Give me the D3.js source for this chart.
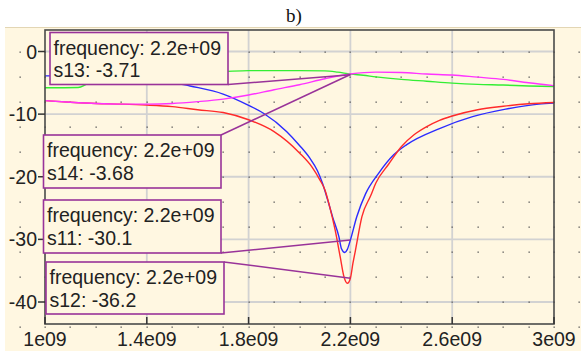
<!DOCTYPE html>
<html>
<head>
<meta charset="utf-8">
<script src="https://cdn.jsdelivr.net/npm/d3@7"></script>
<style>
  body { margin: 0; background: #fff; }
  svg { display: block; }
  .tick-label { font-family: "Liberation Sans", Arial, sans-serif; font-size: 19.5px; fill: #222; }
  .tip-text { font-family: "Liberation Sans", Arial, sans-serif; font-size: 19.5px; fill: #222; }
</style>
</head>
<body>
<div id="chart"></div>
<script>
// frequencies in GHz, values in dB
const freqS11 = [1.0, 1.1, 1.2, 1.3, 1.4, 1.5, 1.57, 1.7, 1.8, 1.86, 1.95, 2.0, 2.04, 2.07, 2.09, 2.11, 2.13, 2.155, 2.165, 2.178, 2.188, 2.2, 2.225, 2.26, 2.31, 2.37, 2.42, 2.55, 2.68, 2.81, 2.94, 3.0];
const s11 = [-3.9, -3.9, -4.0, -4.2, -4.5, -4.9, -5.5, -6.8, -8.6, -9.9, -12.8, -15.0, -17.0, -19.0, -21.0, -23.6, -26.4, -29.6, -31.5, -32.1, -31.6, -30.1, -26.4, -22.7, -19.5, -16.5, -14.9, -12.3, -10.4, -9.2, -8.4, -8.25];

const freqS12 = [1.0, 1.1, 1.2, 1.3, 1.4, 1.5, 1.6, 1.7, 1.8, 1.9, 2.0, 2.05, 2.08, 2.1, 2.12, 2.14, 2.16, 2.175, 2.188, 2.2, 2.21, 2.22, 2.245, 2.28, 2.3, 2.35, 2.4, 2.45, 2.5, 2.55, 2.6, 2.7, 2.8, 2.9, 3.0];
const s12 = [-7.85, -8.1, -8.3, -8.4, -8.55, -8.8, -9.3, -9.75, -10.9, -12.8, -16.2, -18.5, -20.5, -22.1, -25.0, -28.5, -32.8, -36.0, -37.0, -36.2, -33.8, -31.7, -26.4, -23.0, -21.0, -18.0, -15.2, -13.3, -12.0, -11.0, -10.3, -9.3, -8.75, -8.35, -8.15];

const freqS13 = [1.0, 1.13, 1.17, 1.2, 1.3, 1.4, 1.5, 1.6, 1.7, 1.8, 1.9, 2.0, 2.1, 2.15, 2.2, 2.25, 2.3, 2.4, 2.5, 2.6, 2.7, 2.8, 2.9, 3.0];
const s13 = [-5.8, -5.75, -5.1, -4.8, -4.1, -3.7, -3.45, -3.3, -3.2, -3.05, -3.05, -3.05, -3.1, -3.3, -3.6, -3.8, -4.05, -4.45, -4.75, -5.05, -5.25, -5.35, -5.5, -5.6];

const freqS14 = [1.0, 1.1, 1.2, 1.3, 1.4, 1.5, 1.6, 1.7, 1.8, 1.9, 2.0, 2.1, 2.2, 2.3, 2.4, 2.5, 2.6, 2.7, 2.8, 2.9, 3.0];
const s14 = [-7.85, -8.1, -8.3, -8.4, -8.4, -8.3, -8.0, -7.6, -6.95, -6.1, -5.3, -4.35, -3.6, -3.3, -3.35, -3.6, -3.75, -4.1, -4.45, -5.0, -5.45];

const xTicks = [1.0e9, 1.4e9, 1.8e9, 2.2e9, 2.6e9, 3.0e9];
const xTickLabels = ["1e09", "1.4e09", "1.8e09", "2.2e09", "2.6e09", "3e09"];
const yTicks = [0, -10, -20, -30, -40];

// marker readouts at 2.2 GHz
const tipFreq = 2.2e9;
const tipNames = ["s13", "s14", "s11", "s12"];
const tipValues = [-3.71, -3.68, -30.1, -36.2];

const width = 581, height = 351;
const plot = { left: 45, right: 554, top: 30, bottom: 324 };
const cream = "#fff7e1";

const svg = d3.select("#chart").append("svg")
    .attr("width", width)
    .attr("height", height);

// title
svg.append("text")
    .attr("x", 294)
    .attr("y", 22)
    .attr("text-anchor", "middle")
    .style("font-family", "'Liberation Serif', 'Times New Roman', serif")
    .style("font-size", "19px")
    .style("fill", "#111")
    .text("b)");

// cream panel
svg.append("rect")
    .attr("x", 5).attr("y", 27.5)
    .attr("width", width - 5).attr("height", height - 27.5)
    .attr("fill", cream);
svg.append("line")
    .attr("x1", 5).attr("x2", width)
    .attr("y1", 27.5).attr("y2", 27.5)
    .attr("stroke", "#e3d6b4").attr("stroke-width", 1);

const x = d3.scaleLinear().domain([1e9, 3e9]).range([plot.left, plot.right]);
const y = d3.scaleLinear().domain([-40, 0]).range([302, 51.5]);

// major grid lines
svg.append("g")
    .selectAll("line")
    .data(xTicks.slice(1, -1))
    .enter().append("line")
    .attr("x1", d => x(d)).attr("x2", d => x(d))
    .attr("y1", plot.top).attr("y2", plot.bottom)
    .attr("stroke", "#d2d2d2").attr("stroke-width", 1.8);
svg.append("g")
    .selectAll("line")
    .data(yTicks)
    .enter().append("line")
    .attr("x1", plot.left).attr("x2", plot.right)
    .attr("y1", d => y(d)).attr("y2", d => y(d))
    .attr("stroke", "#d2d2d2").attr("stroke-width", 1.8);

// dot grid over the whole panel (every 0.1e9 and 4 dB)
const dotX = d3.range(9, 32).map(i => i * 1e8);
const dotY = d3.range(1, -13, -1).map(i => i * 4);
const dots = [];
dotX.forEach(fx => dotY.forEach(fy => dots.push([fx, fy])));
svg.append("g")
    .selectAll("rect")
    .data(dots.filter(d => y(d[1]) > 28 && y(d[1]) < height && x(d[0]) > 6))
    .enter().append("rect")
    .attr("x", d => Math.round(x(d[0])) - 0.5)
    .attr("y", d => Math.round(y(d[1])) - 0.5)
    .attr("width", 1.3).attr("height", 1.3)
    .attr("fill", "#555");

// curves
const line = d3.line()
    .x(d => x(d[0] * 1e9))
    .y(d => y(d[1]))
    .curve(d3.curveMonotoneX);

const series = [
    { f: freqS11, v: s11, color: "#2b2bff" },
    { f: freqS12, v: s12, color: "#ff2a2a" },
    { f: freqS13, v: s13, color: "#33ee33" },
    { f: freqS14, v: s14, color: "#ff33ff" }
];

svg.append("clipPath").attr("id", "plotclip")
    .append("rect")
    .attr("x", plot.left).attr("y", plot.top)
    .attr("width", plot.right - plot.left).attr("height", plot.bottom - plot.top);

svg.append("g")
    .attr("clip-path", "url(#plotclip)")
    .selectAll("path")
    .data(series)
    .enter().append("path")
    .attr("d", s => line(s.f.map((f, i) => [f, s.v[i]])))
    .attr("fill", "none")
    .attr("stroke", s => s.color)
    .attr("stroke-width", 1.4);

// frame and axes
svg.append("rect")
    .attr("x", plot.left).attr("y", plot.top)
    .attr("width", plot.right - plot.left).attr("height", plot.bottom - plot.top)
    .attr("fill", "none")
    .attr("stroke", "#4a4a4a").attr("stroke-width", 1.6);

// y ticks (outside) and labels
svg.append("g")
    .selectAll("line")
    .data(yTicks)
    .enter().append("line")
    .attr("x1", plot.left - 7).attr("x2", plot.left)
    .attr("y1", d => y(d)).attr("y2", d => y(d))
    .attr("stroke", "#333").attr("stroke-width", 1.5);
svg.append("g")
    .selectAll("text")
    .data(yTicks)
    .enter().append("text")
    .attr("class", "tick-label")
    .attr("x", 37)
    .attr("y", d => y(d))
    .attr("dy", "0.36em")
    .attr("text-anchor", "end")
    .text(d => String(d));

// x ticks (inside) and labels
svg.append("g")
    .selectAll("line")
    .data(xTicks)
    .enter().append("line")
    .attr("x1", d => x(d)).attr("x2", d => x(d))
    .attr("y1", plot.bottom - 7).attr("y2", plot.bottom)
    .attr("stroke", "#333").attr("stroke-width", 1.5);
svg.append("g")
    .selectAll("text")
    .data(xTicks)
    .enter().append("text")
    .attr("class", "tick-label")
    .attr("x", d => x(d))
    .attr("y", 345.5)
    .attr("text-anchor", "middle")
    .text((d, i) => xTickLabels[i]);

// readout boxes with leader lines
const boxes = [
    { x: 50, y: 32.5, w: 178, h: 52, anchor: "bottom" },
    { x: 43.5, y: 135, w: 177.5, h: 53, anchor: "top" },
    { x: 43.5, y: 200, w: 177.5, h: 53, anchor: "bottom" },
    { x: 46, y: 262, w: 178, h: 52, anchor: "top" }
];
const purple = "#993399";

boxes.forEach((b, i) => {
    const px = x(tipFreq), py = y(tipValues[i]);
    const sx = b.x + b.w, sy = b.anchor === "top" ? b.y : b.y + b.h;
    svg.append("line")
        .attr("x1", sx).attr("y1", sy)
        .attr("x2", px).attr("y2", py)
        .attr("stroke", purple).attr("stroke-width", 1.5);
});

boxes.forEach((b, i) => {
    const g = svg.append("g");
    g.append("rect")
        .attr("x", b.x).attr("y", b.y)
        .attr("width", b.w).attr("height", b.h)
        .attr("fill", cream)
        .attr("stroke", purple).attr("stroke-width", 1.6);
    g.append("text")
        .attr("class", "tip-text")
        .attr("x", b.x + 3.5)
        .attr("y", b.y + 22)
        .text("frequency: 2.2e+09");
    g.append("text")
        .attr("class", "tip-text")
        .attr("x", b.x + 3.5)
        .attr("y", b.y + 44.5)
        .text(tipNames[i] + ": " + tipValues[i]);
});
</script>
</body>
</html>
